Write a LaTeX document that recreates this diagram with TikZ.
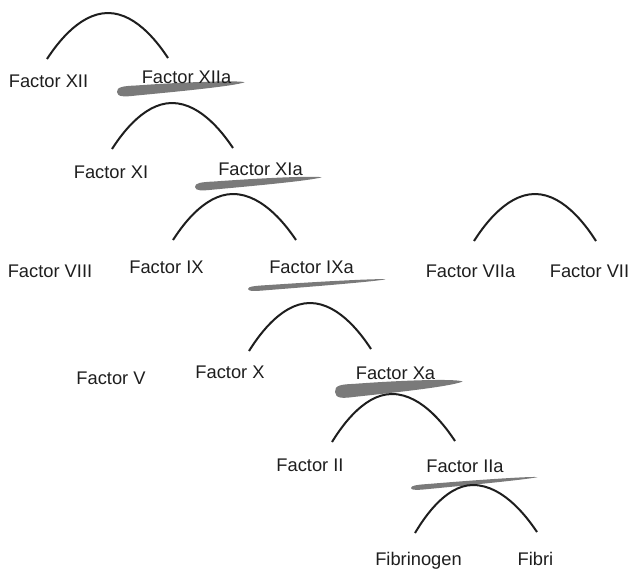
\documentclass[tikz,border=0pt]{standalone}
\usepackage{fontspec}
\setmainfont{Liberation Sans}
\usepackage{tikz}
\usetikzlibrary{calc}
\definecolor{inkblack}{RGB}{30,30,30}
\definecolor{smeargray}{RGB}{122,122,122}

\begin{document}
\begin{tikzpicture}[
    x=0.5pt, y=-0.5pt,
    factor/.style={inner sep=0pt, anchor=base, text=inkblack, font=\fontsize{9.15}{11}\selectfont},
    reaction/.style={draw=inkblack, line width=1pt},
    pics/smear/.style 2 args={code={
      \fill[smeargray] (0,0) .. controls (0,0.5*#2) and (0.05*#1,0.55*#2) .. (0.15*#1,0.5*#2)
        .. controls (0.55*#1,0.42*#2) and (0.9*#1,0.32*#2) .. (#1,0.04*#2)
        .. controls (0.97*#1,-0.2*#2) and (0.6*#1,-0.45*#2) .. (0.15*#1,-0.5*#2)
        .. controls (0.05*#1,-0.55*#2) and (0,-0.5*#2) .. (0,0) -- cycle;
    }}
]
\useasboundingbox (0,0) rectangle (632,569);

% Brush smears under the active factors
\pic[rotate=4.5] at (117,92) {smear={128}{10}};
\pic[rotate=4.5] at (195,187) {smear={127}{8}};
\pic[rotate=4.1] at (248,289) {smear={138}{5}};
\pic[rotate=4.9] at (335,392) {smear={128}{13}};
\pic[rotate=5.0] at (411,488) {smear={127}{5}};

% Factors
\node[factor] (XII) at (48.5,87) {Factor XII};
\node[factor] (XIIa) at (186.5,83) {Factor XIIa};
\node[factor] (XI) at (111,178) {Factor XI};
\node[factor] (XIa) at (260.5,175) {Factor XIa};
\node[factor] (VIII) at (50,277) {Factor VIII};
\node[factor] (IX) at (166.5,273) {Factor IX};
\node[factor] (IXa) at (311.5,273) {Factor IXa};
\node[factor] (VIIa) at (470.5,277) {Factor VIIa};
\node[factor] (VII) at (589.5,277) {Factor VII};
\node[factor] (V) at (111,384) {Factor V};
\node[factor] (X) at (230,378) {Factor X};
\node[factor] (Xa) at (395.5,379) {Factor Xa};
\node[factor] (II) at (310,471) {Factor II};
\node[factor] (IIa) at (465,472) {Factor IIa};
\node[factor] (fibrinogen) at (418.5,565) {Fibrinogen};
\node[factor] (fibrin) at (535.5,565) {Fibri};

% Arc ends and tops
\coordinate (r1a) at (47,59);   \coordinate (r1b) at (108,13);  \coordinate (r1c) at (168,58);
\coordinate (r2a) at (112,149); \coordinate (r2b) at (172,103); \coordinate (r2c) at (233,148);
\coordinate (r3a) at (173,240); \coordinate (r3b) at (233,194); \coordinate (r3c) at (296,240);
\coordinate (r4a) at (474,241); \coordinate (r4b) at (535,194); \coordinate (r4c) at (596,241);
\coordinate (r5a) at (249,351); \coordinate (r5b) at (310,303); \coordinate (r5c) at (371,349);
\coordinate (r6a) at (332,442); \coordinate (r6b) at (392,394); \coordinate (r6c) at (455,441);
\coordinate (r7a) at (415,533); \coordinate (r7b) at (473,485); \coordinate (r7c) at (537,532);

% Reactions
\draw[reaction] (r1a) parabola bend (r1b) (r1c);
\draw[reaction] (r2a) parabola bend (r2b) (r2c);
\draw[reaction] (r3a) parabola bend (r3b) (r3c);
\draw[reaction] (r4a) parabola bend (r4b) (r4c);
\draw[reaction] (r5a) parabola bend (r5b) (r5c);
\draw[reaction] (r6a) parabola bend (r6b) (r6c);
\draw[reaction] (r7a) parabola bend (r7b) (r7c);
\end{tikzpicture}
\end{document}
